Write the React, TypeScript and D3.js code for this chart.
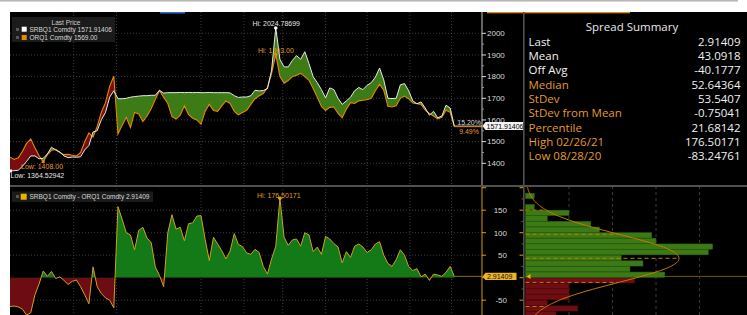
import React from "react";
import * as d3 from "d3";

// ---------- DATA ----------
const START = new Date(2020, 7, 16); // first sample date
const STEP_DAYS = 3;
const AXIS_END = new Date(2021, 6, 23);

const srbq1 = [
  1364.52942, 1366, 1368, 1386, 1409, 1434, 1434, 1421, 1423, 1443,
  1474, 1462, 1452, 1434, 1426, 1429, 1428, 1430, 1462, 1482,
  1545, 1550, 1601, 1635, 1705, 1735, 1698, 1698, 1700, 1705,
  1708, 1710, 1712, 1712, 1714, 1714, 1737, 1724, 1726, 1726,
  1726, 1727, 1726, 1727, 1726, 1727, 1726, 1726, 1727, 1726,
  1726, 1726, 1726, 1725, 1712, 1704, 1706, 1706, 1712, 1737,
  1734, 1736, 1745, 1830, 2024.78699, 1880, 1845, 1845, 1875, 1897,
  1880, 1915, 1860, 1800, 1772, 1740, 1702, 1748, 1740, 1700,
  1672, 1688, 1705, 1735, 1750, 1740, 1760, 1772, 1798, 1840,
  1785, 1700, 1699, 1700, 1762, 1768, 1735, 1688, 1675, 1683,
  1655, 1622, 1640, 1610, 1618, 1668, 1655, 1571.91406,
];

const orq1 = [
  1428.5, 1418, 1425, 1456, 1492, 1512, 1472, 1435, 1408, 1440,
  1460, 1464, 1450, 1440, 1441, 1437, 1433, 1450, 1500, 1540,
  1521, 1570, 1636, 1680, 1755, 1802, 1535, 1575, 1612, 1565,
  1635, 1628, 1593, 1618, 1652, 1695, 1735, 1705, 1676, 1615,
  1604, 1622, 1665, 1625, 1608, 1600, 1580, 1640, 1672, 1644,
  1640, 1665, 1688, 1676, 1640, 1624, 1634, 1644, 1672, 1698,
  1712, 1722, 1750, 1815, 1903, 1800, 1770, 1782, 1800, 1806,
  1815, 1800, 1783, 1745, 1705, 1662, 1644, 1658, 1660, 1630,
  1610, 1650, 1680, 1676, 1688, 1691, 1694, 1700, 1735, 1765,
  1737, 1663, 1660, 1665, 1700, 1710, 1698, 1678, 1675, 1672,
  1645, 1630, 1618, 1605, 1612, 1645, 1635, 1569,
];

const spread = [
  -64, -63, -65, -70, -83.24761, -78, -38, -14, 15, 3,
  14, -2, 2, -6, -15, -8, -5, -20, -38, -58,
  24, -20, -35, -45, -50, -67, 158, 130, 100, 95,
  62, 105, 112, 88, 78, 24, 5, -20, 100, 140,
  108, 112, 82, 120, 122, 137, 138, 85, 38, 90,
  75, 60, 42, 59, 98, 74, 69, 55, 52, 63,
  56, 25, 8, 42, 70, 176.50171, 90, 72, 84, 86,
  70, 100, 95, 58, 68, 52, 92, 86, 76, 68,
  33, 58, 45, 70, 75, 68, 56, 62, 75, 80,
  50, 32, 25, 40, 62, 50, 25, 16, 20, 2,
  8, -6, 8, 6, 3, 12, 25, 2.91409,
];

const priceTicks = [1400, 1500, 1600, 1700, 1800, 1900, 2000];
const spreadTicks = [-50, 50, 100, 150];
const gridMonths = ["2020-10-01", "2020-11-01", "2021-01-01", "2021-02-01", "2021-03-01", "2021-04-01", "2021-05-01", "2021-06-01", "2021-07-01"];

const binStarts = [-87.5, -75, -62.5, -50, -37.5, -25, -12.5, 0, 12.5, 25, 37.5, 50, 62.5, 75, 87.5, 100, 112.5, 125, 137.5, 150, 162.5, 175];
const binCounts = [7, 12, 5, 10, 10, 10, 25, 32, 24, 27, 22, 42, 43, 30, 29, 17, 15, 5, 10, 2, 0, 2];
const BIN_WIDTH = 12.5;
const histGridCounts = [10, 20, 30, 40];

const summaryLabels = ["Last", "Mean", "Off Avg", "Median", "StDev", "StDev from Mean", "Percentile", "High 02/26/21", "Low 08/28/20"];
const summaryValues = ["2.91409", "43.0918", "-40.1777", "52.64364", "53.5407", "-0.75041", "21.68142", "176.50171", "-83.24761"];
const SPREAD_MEAN = 43.0918;
const SPREAD_SD = 53.5407;

// ---------- LAYOUT ----------
const W = 747, H = 315;
const L = 10, AX = 482, TOP = 12, MID = 186, SEP = 523.5;
const ORANGE = "#e38a00";
const TXT_ORANGE = "#e39b2a";
const LAB_FONT = "Liberation Sans, Arial, sans-serif";

const dates = srbq1.map((_, i) => d3.timeDay.offset(START, i * STEP_DAYS));
const x = d3.scaleTime().domain([START, AXIS_END]).range([L, AX]);
const yTop = d3.scaleLinear().domain([1400, 2000]).range([163.3, 33.3]);
const yBot = d3.scaleLinear().domain([-50, 150]).range([300.2, 210.2]);
const xHist = d3.scaleLinear().domain([0, 10]).range([525.5, 569]);

export default function App() {
  const idx = d3.range(srbq1.length);
  const px = (i: number) => x(dates[i]);
  const between = d3.area<number>().x(px).y0((i) => yTop(orq1[i])).y1((i) => yTop(srbq1[i]))(idx) || "";
  const aboveO = d3.area<number>().x(px).y0(TOP).y1((i) => yTop(orq1[i]))(idx) || "";
  const belowO = d3.area<number>().x(px).y0(MID).y1((i) => yTop(orq1[i]))(idx) || "";
  const whiteLine = d3.line<number>().x(px).y((i) => yTop(srbq1[i]))(idx) || "";
  const orangeLine = d3.line<number>().x(px).y((i) => yTop(orq1[i]))(idx) || "";
  const spreadArea = d3.area<number>().x(px).y0(yBot(0)).y1((i) => yBot(spread[i]))(idx) || "";
  const spreadLine = d3.line<number>().x(px).y((i) => yBot(spread[i]))(idx) || "";

  const last = idx.length - 1;
  const lastX = px(last);
  const srbHiI = srbq1.indexOf(d3.max(srbq1) as number);
  const orqHiI = orq1.indexOf(d3.max(orq1) as number);
  const srbLoI = srbq1.indexOf(d3.min(srbq1) as number);
  const orqLoI = orq1.indexOf(d3.min(orq1) as number);
  const spHiI = spread.indexOf(d3.max(spread) as number);

  const total = d3.sum(binCounts);
  const pdfScale = (total * BIN_WIDTH) / (SPREAD_SD * Math.sqrt(2 * Math.PI));
  const curveVals = d3.range(-100, 215, 2);
  const normCount = (v: number) => pdfScale * Math.exp(-0.5 * ((v - SPREAD_MEAN) / SPREAD_SD) ** 2);
  const curve = d3.line<number>().x((v) => xHist(normCount(v))).y((v) => yBot(v))(curveVals) || "";
  const sdLevels = [-2, -1, 0, 1, 2].map((k) => SPREAD_MEAN + k * SPREAD_SD);

  return (
    <svg width={W} height={H} style={{ position: "absolute", left: 0, top: 0, background: "#fff" }}>
      <defs>
        <clipPath id="topPlot"><rect x={L} y={TOP} width={AX - L} height={MID - TOP} /></clipPath>
        <clipPath id="botPlot"><rect x={L} y={MID + 1} width={AX - L} height={H - MID} /></clipPath>
        <clipPath id="aboveO"><path d={aboveO} /></clipPath>
        <clipPath id="belowO"><path d={belowO} /></clipPath>
        <clipPath id="posClip"><rect x={L} y={MID} width={AX - L} height={yBot(0) - MID} /></clipPath>
        <clipPath id="negClip"><rect x={L} y={yBot(0)} width={AX - L} height={H - yBot(0)} /></clipPath>
        <clipPath id="histClip"><rect x={SEP + 1} y={MID + 1} width={W - SEP} height={H - MID} /></clipPath>
      </defs>
      {/* top strip */}
      <rect x={0} y={0} width={738} height={1.6} fill="#b8b8b8" />
      <rect x={L} y={TOP} width={W - L} height={H - TOP} fill="#000" />
      <rect x={160} y={TOP} width={25} height={1.5} fill="#2a6fd6" />
      <rect x={487} y={TOP} width={143} height={1.3} fill="#e08a00" />

      {/* grids */}
      {priceTicks.map((t) => (
        <line key={"hg" + t} x1={L} x2={AX} y1={yTop(t)} y2={yTop(t)} stroke="#4a4a4a" strokeWidth={0.8} strokeDasharray="1,2" />
      ))}
      {spreadTicks.map((t) => (
        <line key={"bg" + t} x1={L} x2={AX} y1={yBot(t)} y2={yBot(t)} stroke="#4a4a4a" strokeWidth={0.8} strokeDasharray="1,2" />
      ))}
      {gridMonths.map((m) => {
        const gx = x(new Date(m + "T00:00:00"));
        return (
          <g key={m}>
            <line x1={gx} x2={gx} y1={TOP} y2={MID} stroke="#4a4a4a" strokeWidth={0.8} strokeDasharray="1,2" />
            <line x1={gx} x2={gx} y1={MID} y2={H} stroke="#4a4a4a" strokeWidth={0.8} strokeDasharray="1,2" />
          </g>
        );
      })}

      {/* top price panel */}
      <g clipPath="url(#topPlot)">
        <g clipPath="url(#aboveO)"><path d={between} fill="#3d7b17" /></g>
        <g clipPath="url(#belowO)"><path d={between} fill="#7a0d12" /></g>
        <line x1={lastX} x2={AX} y1={yTop(srbq1[last])} y2={yTop(srbq1[last])} stroke="#bbb" strokeWidth={1} />
        <line x1={lastX} x2={AX} y1={yTop(orq1[last])} y2={yTop(orq1[last])} stroke={ORANGE} strokeWidth={1} />
        <path d={orangeLine} fill="none" stroke={ORANGE} strokeWidth={1.1} />
        <path d={whiteLine} fill="none" stroke="#e8e8e8" strokeWidth={1} />
      </g>
      {/* top markers & labels */}
      <circle cx={px(srbHiI)} cy={yTop(srbq1[srbHiI])} r={1.8} fill="#fff" />
      <text x={252.5} y={25.5} fontFamily={LAB_FONT} fontSize={7} fill="#e6e6e6">Hi: 2024.78699</text>
      <circle cx={px(orqHiI)} cy={yTop(orq1[orqHiI])} r={1.8} fill={ORANGE} />
      <text x={258} y={52.5} fontFamily={LAB_FONT} fontSize={7} fill={TXT_ORANGE}>Hi: 1903.00</text>
      <rect x={px(orqLoI) - 1.5} y={yTop(orq1[orqLoI]) - 1.5} width={3} height={3} fill={ORANGE} />
      <text x={21} y={168.5} fontFamily={LAB_FONT} fontSize={7} fill={TXT_ORANGE}>Low: 1408.00</text>
      <rect x={px(srbLoI) - 1} y={yTop(srbq1[srbLoI]) - 1.5} width={3} height={3} fill="#fff" />
      <text x={10.5} y={178} fontFamily={LAB_FONT} fontSize={7} fill="#e6e6e6">Low: 1364.52942</text>
      <text x={481} y={124.5} textAnchor="end" fontFamily={LAB_FONT} fontSize={7} fill="#d8d8d8">15.20%</text>
      <text x={479} y={133.5} textAnchor="end" fontFamily={LAB_FONT} fontSize={7} fill={TXT_ORANGE}>9.49%</text>

      {/* top legend */}
      <rect x={12} y={17} width={103} height={25} fill="#1b1b1b" />
      <text x={66} y={25} textAnchor="middle" fontFamily={LAB_FONT} fontSize={6.5} fill="#d0d0d0">Last Price</text>
      <rect x={16} y={28} width={3} height={3} fill="#555" />
      <rect x={21.7} y={26.7} width={5} height={5} fill="#fff" />
      <text x={29.5} y={32} fontFamily={LAB_FONT} fontSize={6.5} fill="#d8d8d8">SRBQ1 Comdty  1571.91406</text>
      <rect x={16} y={36} width={3} height={3} fill="#555" />
      <rect x={21.7} y={35} width={5} height={5} fill={ORANGE} />
      <text x={29.5} y={40.2} fontFamily={LAB_FONT} fontSize={6.5} fill="#d8d8d8">ORQ1 Comdty    1569.00</text>

      {/* top axis */}
      <line x1={AX} x2={AX} y1={TOP} y2={MID} stroke="#c8c8c8" strokeWidth={1} />
      {priceTicks.map((t) => (
        <g key={"pt" + t}>
          <line x1={AX} x2={AX + 4} y1={yTop(t)} y2={yTop(t)} stroke="#ddd" strokeWidth={1} />
          <text x={AX + 5} y={yTop(t) + 2.8} fontFamily={LAB_FONT} fontSize={8} fill="#d8d8d8">{t}</text>
        </g>
      ))}
      {priceTicks.slice(0, -1).map((t) => (
        <line key={"pm" + t} x1={AX} x2={AX + 2} y1={yTop(t + 50)} y2={yTop(t + 50)} stroke="#aaa" strokeWidth={0.8} />
      ))}
      <path d={`M${AX + 0.5},${yTop(srbq1[last])} l3,-4 h38 v8 h-38 z`} fill="#f2f2f2" />
      <text x={AX + 4.5} y={yTop(srbq1[last]) + 2.6} fontFamily={LAB_FONT} fontSize={7} fill="#000">1571.91406</text>

      {/* bottom spread panel */}
      <g clipPath="url(#botPlot)">
        <g clipPath="url(#posClip)"><path d={spreadArea} fill="#137a17" /></g>
        <g clipPath="url(#negClip)"><path d={spreadArea} fill="#6e0c14" /></g>
        <line x1={lastX} x2={AX} y1={yBot(spread[last])} y2={yBot(spread[last])} stroke="#8a6a10" strokeWidth={1} />
        <path d={spreadLine} fill="none" stroke="#d1a020" strokeWidth={1} />
      </g>
      <circle cx={px(spHiI)} cy={yBot(spread[spHiI])} r={1.8} fill="#e0a800" />
      <text x={257} y={197.5} fontFamily={LAB_FONT} fontSize={7} fill={TXT_ORANGE}>Hi: 176.50171</text>
      <rect x={12} y={191.5} width={141} height={10.5} fill="#1b1b1b" />
      <rect x={16} y={195} width={3} height={3} fill="#555" />
      <rect x={20.7} y={193.7} width={6} height={6} fill="#e8b400" />
      <text x={29.5} y={199.3} fontFamily={LAB_FONT} fontSize={6.5} fill="#d8d8d8">SRBQ1 Comdty - ORQ1 Comdty 2.91409</text>

      {/* bottom axis */}
      <line x1={AX} x2={AX} y1={MID + 1} y2={H} stroke="#d49a00" strokeWidth={1} />
      {[-50, 0, 50, 100, 150, 200].map((t) => (
        <line key={"st" + t} x1={AX} x2={AX + 4} y1={yBot(t)} y2={yBot(t)} stroke="#e0a000" strokeWidth={1} />
      ))}
      {spreadTicks.map((t) => (
        <text key={"sl" + t} x={507} y={yBot(t) + 2.8} textAnchor="end" fontFamily={LAB_FONT} fontSize={8} fill="#d8d8d8">{t}</text>
      ))}
      <path d={`M${AX + 0.5},${yBot(spread[last])} l3,-3.6 h31 v7.2 h-31 z`} fill="#f0b323" />
      <text x={AX + 5} y={yBot(spread[last]) + 2.5} fontFamily={LAB_FONT} fontSize={7} fill="#111">2.91409</text>

      {/* histogram */}
      <g clipPath="url(#histClip)">
        {histGridCounts.map((c) => (
          <line key={"hgc" + c} x1={xHist(c)} x2={xHist(c)} y1={MID} y2={H} stroke="#3a3a3a" strokeWidth={1} strokeDasharray="3,3" />
        ))}
        <line x1={SEP} x2={W} y1={yBot(spread[last])} y2={yBot(spread[last])} stroke="#6e5a00" strokeWidth={1} />
        {binStarts.map((b, k) => (
          <rect key={"hb" + b} x={xHist(0)} y={yBot(b + BIN_WIDTH)} width={xHist(binCounts[k]) - xHist(0)} height={yBot(b) - yBot(b + BIN_WIDTH) - 0.4}
            fill={b >= 0 ? "#3b7a15" : "#6e0d12"} stroke={b >= 0 ? "#2f6a10" : "#5a0a0e"} strokeWidth={0.5} />
        ))}
        {sdLevels.map((v, k) => (
          <line key={"sd" + k} x1={xHist(0)} x2={xHist(normCount(v))} y1={yBot(v)} y2={yBot(v)} stroke="#c87a00" strokeWidth={1} strokeDasharray="4,3" />
        ))}
        <path d={curve} fill="none" stroke="#c87a00" strokeWidth={1} />
        <path d={`M${xHist(0) + 1},${yBot(spread[last])} l4,-2.5 v5 z`} fill="#e8b400" />
      </g>
      {[-50, 0, 50, 100, 150, 200].map((t) => (
        <line key={"ht" + t} x1={SEP - 4} x2={SEP} y1={yBot(t)} y2={yBot(t)} stroke="#e0a000" strokeWidth={1} />
      ))}
      {[-25, 25, 75, 125, 175].map((t) => (
        <line key={"hm" + t} x1={SEP - 2} x2={SEP} y1={yBot(t)} y2={yBot(t)} stroke="#777" strokeWidth={0.8} />
      ))}

      {/* separators */}
      <rect x={L} y={MID - 1} width={W - L} height={2} fill="#505050" />
      <rect x={SEP - 0.5} y={TOP} width={1.6} height={H - TOP} fill="#505050" />

      {/* summary panel */}
      <text x={632} y={31} textAnchor="middle" fontFamily="Open Sans, sans-serif" fontSize={11.5} fill="#e8e8e8">Spread Summary</text>
      {summaryLabels.map((s, k) => (
        <g key={s}>
          <text x={528.5} y={45.8 + k * 14.3} fontFamily="Open Sans, sans-serif" fontSize={11.5} fill={k < 3 ? "#f0f0f0" : TXT_ORANGE}>{s}</text>
          <text x={740.5} y={45.8 + k * 14.3} textAnchor="end" fontFamily="Open Sans, sans-serif" fontSize={11.5} fill="#f0f0f0">{summaryValues[k]}</text>
        </g>
      ))}
    </svg>
  );
}
